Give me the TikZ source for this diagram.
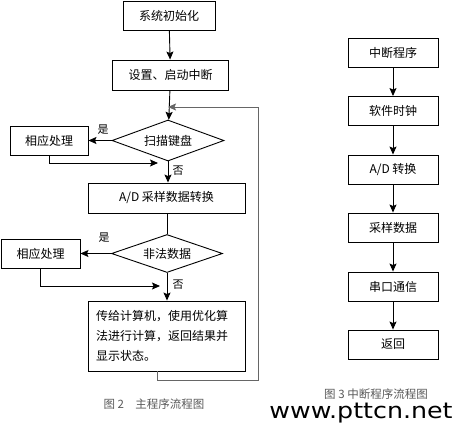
\documentclass[tikz,border=0pt]{standalone}
\usepackage{fontspec}
\setmainfont{Noto Sans CJK SC}
\newfontfamily\wmfont{DejaVu Sans}
\usetikzlibrary{positioning,arrows.meta,calc,shapes.geometric}

\begin{document}
\begin{tikzpicture}[x=1pt,y=-1pt,
  >={Stealth[length=8pt,width=7pt,inset=1.5pt]},
  pbox/.style={draw,line width=0.9pt,inner sep=0pt,font=\fontsize{12}{14}\selectfont},
  dbox/.style={diamond,draw,line width=0.9pt,inner sep=0pt,aspect=2.7,font=\fontsize{12}{14}\selectfont},
  edg/.style={->,line width=0.9pt},
  lnk/.style={line width=0.9pt},
  back/.style={->,line width=0.8pt,draw=black!60},
  ylab/.style={font=\fontsize{11}{13}\selectfont,inner sep=1pt},
  capt/.style={font=\fontsize{11.5}{13}\selectfont,text=black!65}]

  \useasboundingbox (0,0) rectangle (454,426);

  % main program
  \node[pbox,minimum width=92,minimum height=29] (init)  at (169,16)    {系统初始化};
  \node[pbox,minimum width=116,minimum height=30] (setup) at (170.5,75) {设置、启动中断};
  \node[dbox,minimum width=112,minimum height=41] (scan)  at (168,140.5) {扫描键盘};
  \node[pbox,minimum width=78,minimum height=29] (proc1) at (49,140.5)  {相应处理};
  \node[pbox,minimum width=157,minimum height=30] (adc)  at (166.5,198) {A/D 采样数据转换};
  \node[dbox,minimum width=111,minimum height=38] (bad)  at (167,253.5) {非法数据};
  \node[pbox,minimum width=79,minimum height=29] (proc2) at (40.5,253.5) {相应处理};
  \node[pbox,minimum width=157,minimum height=70,align=left,text width=141,
        inner xsep=8,font=\fontsize{12}{20}\selectfont] (send) at (166.5,336)
        {传给计算机，使用优化算\\法进行计算，返回结果并\\显示状态。};

  \coordinate (j1)   at (158,163);
  \coordinate (j2)   at (160,286);
  \coordinate (bk1)  at (157,380);
  \coordinate (bk2)  at (258,107);
  \coordinate (bk3)  at (168,107);

  \draw[edg] (init) -- (setup);
  \draw[edg] (setup) -- (scan);
  \draw[edg] (scan.west) -- (proc1.east) node[ylab] at (103,130) {是};
  \draw[edg] (proc1.south) |- (j1);
  \draw[edg] (scan.south) -- (scan.south |- adc.north) node[ylab] at (178,171) {否};
  \draw[lnk] (adc.south -| bad.north) -- (bad.north);
  \draw[edg] (bad.west) -- (proc2.east) node[ylab] at (104,238) {是};
  \draw[edg] (proc2.south) |- (j2);
  \draw[edg] (bad.south) -- (bad.south |- send.north) node[ylab] at (178,285) {否};

  % loop back to the key scan
  \draw[back] (send.south -| bk1) -- (bk1) -| (bk2) -- (bk3);

  \node[capt] (cap2) at (154,404) {图 2\quad 主程序流程图};

  % interrupt routine
  \node[pbox,minimum width=90,minimum height=29] (irq)  at (393,52.5)  {中断程序};
  \node[pbox,minimum width=90,minimum height=29] (clk)  at (393,111)   {软件时钟};
  \node[pbox,minimum width=90,minimum height=29] (conv) at (393,169.5) {A/D 转换};
  \node[pbox,minimum width=90,minimum height=29] (samp) at (393,227.5) {采样数据};
  \node[pbox,minimum width=90,minimum height=29] (uart) at (393,286.5) {串口通信};
  \node[pbox,minimum width=90,minimum height=29] (ret)  at (393,344.5) {返回};
  \draw[edg] (irq) -- (clk);
  \draw[edg] (clk) -- (conv);
  \draw[edg] (conv) -- (samp);
  \draw[edg] (samp) -- (uart);
  \draw[edg] (uart) -- (ret);

  \node[capt] (cap3) at (376,394) {图 3 中断程序流程图};
  \node[font=\wmfont\fontsize{22}{24}\selectfont,xscale=1.15] (wm) at (361,413) {www.pttcn.net};
\end{tikzpicture}
\end{document}
